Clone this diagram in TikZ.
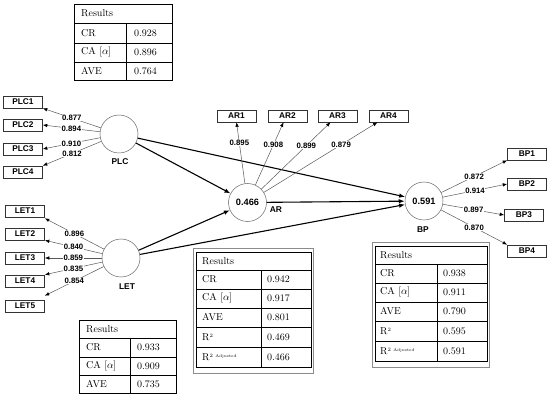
\documentclass[tikz,border=0pt]{standalone}
\usepackage{fontspec}
\newfontfamily\lsans{Liberation Sans}
\usetikzlibrary{arrows.meta}
\tikzset{
  ind/.style={draw=black!80, line width=0.6pt, minimum width=39pt, minimum height=12pt, inner sep=0pt, font=\lsans\bfseries\fontsize{8.3}{9}\selectfont},
  lat/.style={circle, draw=black!60, line width=0.5pt, minimum size=38pt, inner sep=0pt, font=\lsans\bfseries\fontsize{9.2}{10}\selectfont},
  latlab/.style={font=\lsans\bfseries\fontsize{8.4}{9}\selectfont, inner sep=0pt},
  load/.style={draw=black!65, line width=0.5pt, -{Latex[length=4.5pt,width=3.5pt,color=black]}},
  ld/.style={fill=white, inner sep=0.6pt, font=\lsans\bfseries\fontsize{7.8}{8}\selectfont},
  struct/.style={draw=black, line width=1.1pt, -{Latex[length=6pt,width=4.5pt]}},
  tline/.style={draw=black, line width=0.6pt},
  tframe/.style={draw=black!45, line width=0.6pt},
  ttext/.style={anchor=west, inner sep=0pt, font=\fontsize{10}{11}\selectfont},
}
\begin{document}
\begin{tikzpicture}[x=1pt,y=-1pt]
\useasboundingbox (0,0) rectangle (550,401);
% latent variables
\node[lat] (PLC) at (119,134) {};
\node[latlab] (PLCl) at (120,162) {PLC};
\node[lat] (LET) at (121,258) {};
\node[latlab] (LETl) at (127,287) {LET};
\node[lat] (AR) at (247.5,202.5) {0.466};
\node[latlab] (ARl) at (276,210) {AR};
\node[lat] (BP) at (424,201) {0.591};
\node[latlab] (BPl) at (423,230) {BP};
% indicators
\node[ind] (PLC1) at (23,102) {PLC1};
\node[ind] (PLC2) at (23,125) {PLC2};
\node[ind] (PLC3) at (23,149) {PLC3};
\node[ind] (PLC4) at (23,172) {PLC4};
\node[ind] (LET1) at (25,211) {LET1};
\node[ind] (LET2) at (25,234) {LET2};
\node[ind] (LET3) at (25,258) {LET3};
\node[ind] (LET4) at (25,281) {LET4};
\node[ind] (LET5) at (25,306) {LET5};
\node[ind] (AR1) at (236.5,116) {AR1};
\node[ind] (AR2) at (287.5,116) {AR2};
\node[ind] (AR3) at (337.5,116) {AR3};
\node[ind] (AR4) at (388.5,116) {AR4};
\node[ind] (BP1) at (527,154) {BP1};
\node[ind] (BP2) at (527,184) {BP2};
\node[ind] (BP3) at (524,215) {BP3};
\node[ind] (BP4) at (527,251) {BP4};
% structural paths
\draw[struct] (PLC) -- (AR);
\draw[struct] (PLC) -- (BP);
\draw[struct] (LET) -- (AR);
\draw[struct] (LET) -- (BP);
\draw[struct] (AR) -- (BP);
% loadings
\draw[load] (PLC) -- (PLC1.south east) node[ld,pos=0.5] (lp1) {0.877};
\draw[load] (PLC) -- (PLC2.east) node[ld,pos=0.5] (lp2) {0.894};
\draw[load] (PLC) -- (PLC3.east) node[ld,pos=0.5] (lp3) {0.910};
\draw[load] (PLC) -- (PLC4.north east) node[ld,pos=0.5] (lp4) {0.812};
\draw[load] (LET) -- ([yshift=-1pt]LET1.south east) node[ld,pos=0.5] (ll1) {0.896};
\draw[load] (LET) -- (LET2.south east) node[ld,pos=0.5] (ll2) {0.840};
\draw[load] (LET) -- (LET3.east) node[ld,pos=0.5] (ll3) {0.859};
\draw[load] (LET) -- (LET4.north east) node[ld,pos=0.5] (ll4) {0.835};
\draw[load] (LET) -- ([yshift=4pt]LET5.north east) node[ld,pos=0.5] (ll5) {0.854};
\draw[load] (AR) -- (AR1.south) node[ld,pos=0.66] (la1) {0.895};
\draw[load] (AR) -- ([xshift=-4pt]AR2.south) node[ld,pos=0.64] (la2) {0.908};
\draw[load] (AR) -- ([xshift=-7pt]AR3.south) node[ld,pos=0.65] (la3) {0.899};
\draw[load] (AR) -- ([xshift=-11pt]AR4.south) node[ld,pos=0.68] (la4) {0.879};
\draw[load] (BP) -- (BP1.south west) node[ld,pos=0.5] (lb1) {0.872};
\draw[load] (BP) -- (BP2.west) node[ld,pos=0.5] (lb2) {0.914};
\draw[load] (BP) -- (BP3.west) node[ld,pos=0.5] (lb3) {0.897};
\draw[load] (BP) -- (BP4.north west) node[ld,pos=0.5] (lb4) {0.870};
% table PLC
\draw[tline, line width=0.8pt] (74,4) rectangle (172,80);
\draw[tline] (74,23) -- (172,23) (74,43) -- (172,43) (74,62) -- (172,62) (126,23) -- (126,80);
\node[ttext] (t1h) at (81,13.5) {Results};
\node[ttext] (t1a) at (81,33) {CR};
\node[ttext] (t1b) at (81,52.5) {CA [$\alpha$]};
\node[ttext] (t1c) at (81,71) {AVE};
\node[ttext] (t1av) at (134,33) {0.928};
\node[ttext] (t1bv) at (134,52.5) {0.896};
\node[ttext] (t1cv) at (134,71) {0.764};
% table LET
\draw[tline, line width=0.8pt] (79,320) rectangle (176,393);
\draw[tline] (79,338) -- (176,338) (79,357) -- (176,357) (79,375) -- (176,375) (130,338) -- (130,393);
\node[ttext] (t2h) at (86,329) {Results};
\node[ttext] (t2a) at (86,347.5) {CR};
\node[ttext] (t2b) at (86,366) {CA [$\alpha$]};
\node[ttext] (t2c) at (86,384) {AVE};
\node[ttext] (t2av) at (137,347.5) {0.933};
\node[ttext] (t2bv) at (137,366) {0.909};
\node[ttext] (t2cv) at (137,384) {0.735};
% table AR
\draw[tframe] (193,248) rectangle (313,373);
\draw[tline] (196,252) rectangle (311,367);
\draw[tline] (196,270) -- (311,270) (196,289) -- (311,289) (196,308) -- (311,308) (196,327) -- (311,327) (196,347) -- (311,347) (261,270) -- (261,367);
\node[ttext] (t3h) at (202,261) {Results};
\node[ttext] (t3a) at (202,279.5) {CR};
\node[ttext] (t3b) at (202,298.5) {CA [$\alpha$]};
\node[ttext] (t3c) at (202,317.5) {AVE};
\node[ttext] (t3d) at (202,337) {R\raisebox{3pt}{\fontsize{5}{5}\selectfont 2}};
\node[ttext] (t3e) at (202,357) {R\raisebox{3pt}{\fontsize{5}{5}\selectfont 2 \fontsize{4}{4}\selectfont Adjusted}};
\node[ttext] (t3av) at (267,279.5) {0.942};
\node[ttext] (t3bv) at (267,298.5) {0.917};
\node[ttext] (t3cv) at (267,317.5) {0.801};
\node[ttext] (t3dv) at (267,337) {0.469};
\node[ttext] (t3ev) at (267,357) {0.466};
% table BP
\draw[tframe] (372,242) rectangle (489,367);
\draw[tline] (375,246) rectangle (487,361);
\draw[tline] (375,264) -- (487,264) (375,283) -- (487,283) (375,302) -- (487,302) (375,321) -- (487,321) (375,341) -- (487,341) (437,264) -- (437,361);
\node[ttext] (t4h) at (380,255) {Results};
\node[ttext] (t4a) at (380,273.5) {CR};
\node[ttext] (t4b) at (380,292.5) {CA [$\alpha$]};
\node[ttext] (t4c) at (380,311.5) {AVE};
\node[ttext] (t4d) at (380,331) {R\raisebox{3pt}{\fontsize{5}{5}\selectfont 2}};
\node[ttext] (t4e) at (380,351) {R\raisebox{3pt}{\fontsize{5}{5}\selectfont 2 \fontsize{4}{4}\selectfont Adjusted}};
\node[ttext] (t4av) at (443,273.5) {0.938};
\node[ttext] (t4bv) at (443,292.5) {0.911};
\node[ttext] (t4cv) at (443,311.5) {0.790};
\node[ttext] (t4dv) at (443,331) {0.595};
\node[ttext] (t4ev) at (443,351) {0.591};
\end{tikzpicture}
\end{document}
